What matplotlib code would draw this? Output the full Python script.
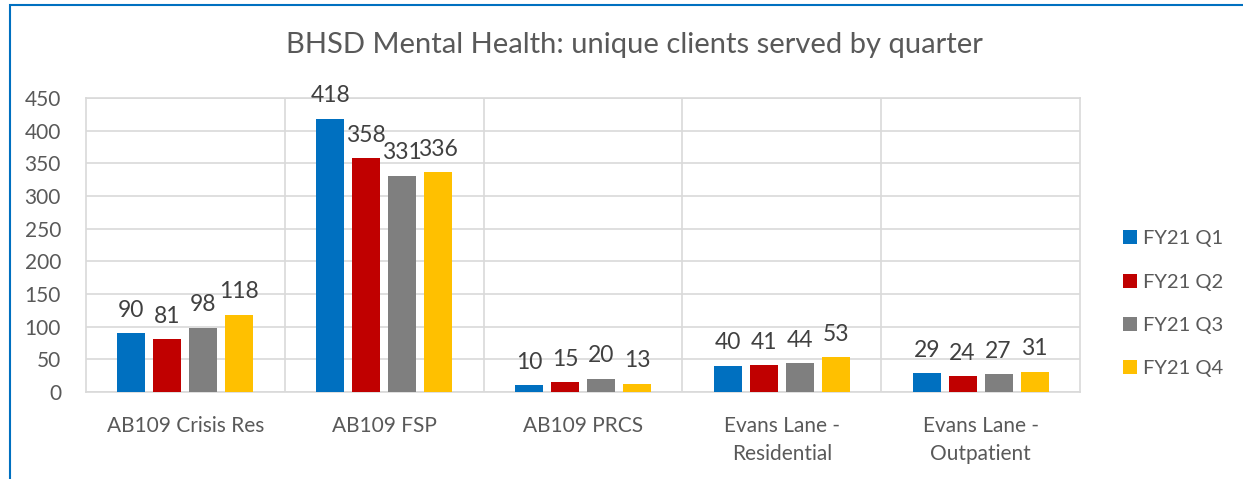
import numpy as np
import matplotlib.pyplot as plt
from matplotlib.patches import Rectangle

plt.rcParams['font.family'] = ['Lato', 'DejaVu Sans']

categories = ["AB109 Crisis Res", "AB109 FSP", "AB109 PRCS",
              "Evans Lane -\nResidential", "Evans Lane -\nOutpatient"]
series = ["FY21 Q1", "FY21 Q2", "FY21 Q3", "FY21 Q4"]
q1 = [90, 418, 10, 40, 29]
q2 = [81, 358, 15, 41, 24]
q3 = [98, 331, 20, 44, 27]
q4 = [118, 336, 13, 53, 31]
colors = ["#0070C0", "#C00000", "#7F7F7F", "#FFC000"]

fig = plt.figure(figsize=(12.43, 4.79), dpi=100)
ax = fig.add_axes([86/1243, 1 - 392/479, 994/1243, 294/479])

x = np.arange(len(categories))
width = 0.141
step = 0.181
for i, (vals, c, name) in enumerate(zip([q1, q2, q3, q4], colors, series)):
    pos = x + (i - 1.5) * step
    ax.bar(pos, vals, width=width, color=c, label=name, zorder=3)
    for p, v in zip(pos, vals):
        ax.annotate(str(v), (p, v), xytext=(0, 9), textcoords='offset points',
                    ha='center', va='bottom', fontsize=16.5, color='#404040')

ax.set_xlim(-0.5, len(categories) - 0.5)
ax.set_ylim(0, 450)
ax.set_yticks(range(0, 451, 50))
ax.set_xticks(x)
ax.set_xticklabels(categories, fontsize=15, color='#595959', linespacing=1.5)
ax.tick_params(axis='y', labelsize=15, labelcolor='#595959', length=0, pad=18)
ax.tick_params(axis='x', length=0, pad=17)
ax.grid(axis='y', color='#D9D9D9', lw=1.2, zorder=0)
for b in np.arange(0.5, len(categories) - 0.5, 1):
    ax.axvline(b, color='#D9D9D9', lw=1.2, zorder=0)
for side in ['top', 'right', 'left', 'bottom']:
    ax.spines[side].set_color('#D9D9D9')
    ax.spines[side].set_linewidth(1.2)

fig.text(634/1243, 1 - 45/479, "BHSD Mental Health: unique clients served by quarter",
         ha='center', va='center', fontsize=21, color='#595959')

ax.legend(loc='center left', bbox_to_anchor=(1.025, 0.3), frameon=False,
          fontsize=14.5, labelcolor='#595959', handlelength=0.7, handleheight=0.7,
          handletextpad=0.3, labelspacing=1.3)

# chart border (blue, left and top visible)
fig.patches.append(Rectangle((10/1243, -0.1), 1.5, 1 - 5/479 + 0.1,
                             transform=fig.transFigure, fill=False,
                             edgecolor='#0070C0', lw=1.5))

plt.savefig("out.png", dpi=100)
